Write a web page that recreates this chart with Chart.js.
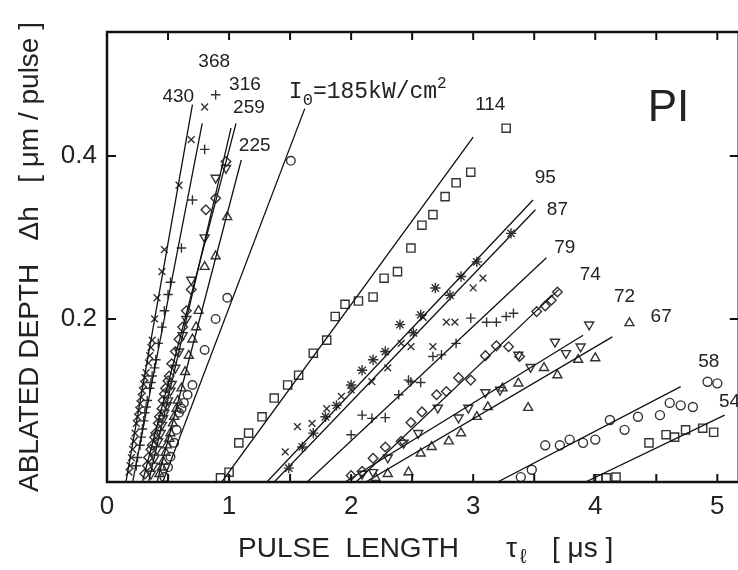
<!DOCTYPE html>
<html>
<head>
<meta charset="utf-8">
<script src="https://cdn.jsdelivr.net/npm/chart.js@4.4.1/dist/chart.umd.min.js"></script>
<style>
  html, body { margin: 0; padding: 0; background: #fff; overflow: hidden; }
  #wrap { width: 738px; height: 570px; overflow: hidden; }
</style>
</head>
<body>
<div id="wrap"><canvas id="chart" width="746" height="570"></canvas></div>
<script>
// laser intensity I0 [kW/cm2] of each series
const intensities = ["430", "368", "316", "259", "225", "185", "114", "95", "87", "79", "74", "72", "67", "58", "54"];

// measured points [pulse length (us), ablated depth (um/pulse)]
const pts430 = [[0.18,0.012],[0.19,0.02],[0.20,0.03],[0.21,0.04],[0.22,0.05],[0.23,0.06],[0.24,0.072],[0.25,0.08],[0.26,0.088],[0.27,0.096],[0.28,0.104],[0.29,0.112],[0.30,0.12],[0.31,0.128],[0.32,0.134],[0.34,0.146],[0.35,0.155],[0.36,0.165],[0.37,0.174],[0.39,0.20],[0.41,0.226],[0.45,0.258],[0.47,0.285],[0.59,0.364],[0.69,0.42],[0.80,0.46]];
const pts368 = [[0.24,0.02],[0.25,0.03],[0.27,0.045],[0.28,0.055],[0.29,0.065],[0.30,0.075],[0.31,0.085],[0.32,0.092],[0.33,0.10],[0.35,0.115],[0.36,0.122],[0.37,0.13],[0.39,0.14],[0.40,0.15],[0.42,0.17],[0.45,0.19],[0.47,0.21],[0.50,0.23],[0.52,0.245],[0.61,0.287],[0.70,0.346],[0.80,0.408],[0.89,0.475]];
const pts316 = [[0.31,0.01],[0.33,0.02],[0.34,0.03],[0.36,0.04],[0.37,0.045],[0.39,0.055],[0.40,0.06],[0.42,0.072],[0.43,0.08],[0.45,0.09],[0.46,0.10],[0.47,0.108],[0.48,0.115],[0.50,0.124],[0.51,0.13],[0.53,0.145],[0.56,0.16],[0.59,0.175],[0.62,0.19],[0.65,0.21],[0.69,0.236],[0.81,0.334],[0.89,0.348],[0.975,0.393]];
const pts259 = [[0.36,0.01],[0.38,0.02],[0.39,0.03],[0.41,0.04],[0.42,0.05],[0.44,0.06],[0.45,0.07],[0.46,0.078],[0.47,0.085],[0.49,0.094],[0.50,0.10],[0.52,0.112],[0.53,0.12],[0.56,0.14],[0.59,0.16],[0.62,0.18],[0.65,0.20],[0.69,0.248],[0.80,0.30],[0.89,0.373],[0.975,0.385]];
const pts225 = [[0.43,0.01],[0.45,0.018],[0.46,0.025],[0.48,0.036],[0.49,0.045],[0.51,0.053],[0.52,0.06],[0.54,0.072],[0.55,0.08],[0.57,0.09],[0.58,0.10],[0.61,0.115],[0.64,0.135],[0.67,0.155],[0.70,0.175],[0.73,0.19],[0.75,0.21],[0.80,0.264],[0.89,0.277],[0.985,0.325]];
const pts185 = [[0.47,0.006],[0.50,0.018],[0.52,0.031],[0.55,0.048],[0.57,0.064],[0.59,0.085],[0.61,0.09],[0.63,0.097],[0.66,0.107],[0.70,0.119],[0.80,0.162],[0.89,0.20],[0.985,0.226],[1.506,0.394]];
const pts114 = [[0.93,0.005],[1.00,0.012],[1.08,0.048],[1.16,0.06],[1.27,0.08],[1.37,0.103],[1.48,0.119],[1.57,0.131],[1.69,0.158],[1.80,0.174],[1.87,0.203],[1.95,0.218],[2.06,0.222],[2.18,0.227],[2.27,0.25],[2.38,0.258],[2.49,0.287],[2.58,0.315],[2.67,0.328],[2.77,0.35],[2.86,0.367],[2.98,0.38],[3.27,0.434]];
const pts95 = [[1.49,0.017],[1.60,0.043],[1.69,0.06],[1.79,0.08],[1.88,0.094],[2.00,0.119],[2.09,0.137],[2.18,0.15],[2.28,0.16],[2.40,0.193],[2.51,0.183],[2.57,0.205],[2.69,0.238],[2.81,0.229],[2.90,0.252],[3.03,0.27],[3.31,0.305]];
const pts87 = [[1.46,0.037],[1.56,0.068],[1.68,0.072],[1.80,0.09],[1.92,0.105],[2.00,0.113],[2.17,0.123],[2.30,0.14],[2.41,0.17],[2.49,0.166],[2.59,0.202],[2.67,0.166],[2.78,0.196],[2.85,0.196],[3.00,0.238],[3.08,0.25]];
const pts79 = [[2.00,0.058],[2.09,0.082],[2.17,0.078],[2.28,0.079],[2.39,0.107],[2.47,0.125],[2.49,0.123],[2.57,0.122],[2.67,0.154],[2.74,0.156],[2.86,0.17],[2.98,0.201],[3.11,0.196],[3.19,0.196],[3.27,0.203],[3.33,0.207]];
const pts74 = [[2.00,0.008],[2.09,0.013],[2.18,0.029],[2.28,0.043],[2.41,0.05],[2.49,0.073],[2.58,0.086],[2.70,0.107],[2.78,0.111],[2.88,0.128],[2.98,0.125],[3.10,0.155],[3.19,0.167],[3.29,0.166],[3.38,0.154],[3.52,0.209],[3.59,0.216],[3.64,0.223],[3.69,0.233]];
const pts72 = [[2.09,0.01],[2.18,0.012],[2.30,0.03],[2.43,0.048],[2.55,0.06],[2.71,0.091],[2.88,0.079],[2.96,0.091],[3.10,0.11],[3.22,0.113],[3.37,0.156],[3.47,0.141],[3.67,0.172],[3.76,0.158],[3.88,0.166],[3.95,0.193]];
const pts67 = [[2.20,0.005],[2.30,0.01],[2.47,0.012],[2.57,0.035],[2.66,0.043],[2.80,0.05],[2.90,0.06],[3.03,0.08],[3.12,0.092],[3.24,0.115],[3.37,0.121],[3.45,0.091],[3.58,0.14],[3.69,0.131],[3.86,0.15],[4.00,0.152],[4.28,0.195]];
const pts58 = [[3.39,0.006],[3.48,0.015],[3.59,0.045],[3.71,0.045],[3.79,0.052],[3.90,0.048],[4.00,0.052],[4.12,0.076],[4.24,0.064],[4.35,0.08],[4.53,0.082],[4.61,0.097],[4.70,0.094],[4.80,0.092],[4.92,0.123],[5.00,0.121]];
const pts54 = [[4.02,0.004],[4.09,0.005],[4.17,0.006],[4.44,0.048],[4.58,0.058],[4.65,0.055],[4.74,0.064],[4.88,0.066],[4.97,0.061]];

const seriesPoints = [pts430, pts368, pts316, pts259, pts225, pts185, pts114, pts95, pts87, pts79, pts74, pts72, pts67, pts58, pts54];

// straight fits: from the threshold on the x axis up to an end point
const fitStartX = [0.155, 0.21, 0.29, 0.34, 0.41, 0.457, 0.94, 1.31, 1.37, 1.64, 2.04, 1.95, 2.12, 3.2, 3.92];
const fitEndX = [0.70, 0.78, 1.057, 1.016, 1.10, 1.62, 3.0, 3.49, 3.51, 3.60, 3.70, 3.90, 4.14, 4.70, 5.06];
const fitEndY = [0.463, 0.44, 0.44, 0.434, 0.395, 0.458, 0.423, 0.346, 0.334, 0.275, 0.236, 0.18, 0.178, 0.117, 0.082];

// where each intensity label sits (data coords, text centre)
const labelX = [0.584, 0.878, 1.13, 1.163, 1.21, 1.49, 3.14, 3.59, 3.69, 3.75, 3.96, 4.24, 4.54, 4.93, 5.10];
const labelY = [0.472, 0.515, 0.487, 0.459, 0.413, 0.478, 0.463, 0.373, 0.334, 0.287, 0.254, 0.227, 0.203, 0.147, 0.098];

const markerStyle = ["crossRot", "cross", "rectRot", "triangle", "triangle", "circle", "rect", "star", "crossRot", "cross", "rectRot", "triangle", "triangle", "circle", "rect"];
const markerRotation = [0, 0, 0, 180, 0, 0, 0, 0, 0, 0, 0, 180, 0, 0, 0];
const markerRadius = [4.8, 4.8, 4.8, 5.2, 5.2, 4.3, 5.8, 5.2, 4.8, 4.8, 4.8, 5.2, 5.2, 4.5, 5.8];

const sansFont = '"Liberation Sans", Arial, sans-serif';
const ink = "#222";

const datasets = [];
intensities.forEach((name, i) => {
  datasets.push({
    label: name + " fit",
    type: "line",
    data: [{ x: fitStartX[i], y: 0 }, { x: fitEndX[i], y: fitEndY[i] }],
    borderColor: "#111",
    borderWidth: 1.3,
    pointRadius: 0,
    showLine: true,
    fill: false
  });
  datasets.push({
    label: name,
    type: "scatter",
    data: seriesPoints[i].map(p => ({ x: p[0], y: p[1] })),
    pointStyle: markerStyle[i],
    rotation: markerRotation[i],
    pointRadius: markerRadius[i],
    borderColor: "#333",
    backgroundColor: "rgba(0,0,0,0)",
    borderWidth: 1.4
  });
});

const frame = {
  id: "frame",
  afterDatasetsDraw(chart) {
    const { ctx, chartArea: a, scales } = chart;
    const x = scales.x, y = scales.y;
    ctx.save();
    ctx.strokeStyle = "#111";
    ctx.lineWidth = 2.5;
    ctx.strokeRect(a.left, a.top, a.right - a.left, a.bottom - a.top);

    // inward tick marks on all four sides
    ctx.lineWidth = 2;
    ctx.beginPath();
    for (let k = 1; k * 0.5 < x.max; k++) {
      const px = x.getPixelForValue(k * 0.5);
      ctx.moveTo(px, a.bottom); ctx.lineTo(px, a.bottom - 8);
      ctx.moveTo(px, a.top); ctx.lineTo(px, a.top + 8);
    }
    [0.2, 0.4].forEach(v => {
      const py = y.getPixelForValue(v);
      ctx.moveTo(a.left, py); ctx.lineTo(a.left + 9, py);
      ctx.moveTo(a.right, py); ctx.lineTo(a.right - 9, py);
    });
    ctx.stroke();

    // intensity labels
    ctx.fillStyle = ink;
    ctx.textBaseline = "middle";
    intensities.forEach((name, i) => {
      const px = x.getPixelForValue(labelX[i]);
      const py = y.getPixelForValue(labelY[i]);
      if (name === "185") {
        const mono = '"Liberation Mono", "DejaVu Sans Mono", monospace';
        ctx.textAlign = "left";
        ctx.textBaseline = "alphabetic";
        let cx = px;
        const base = py + 6;
        ctx.font = "23px " + mono;
        ctx.fillText("I", cx, base); cx += ctx.measureText("I").width;
        ctx.font = "17px " + mono;
        ctx.fillText("0", cx, base + 7); cx += ctx.measureText("0").width;
        ctx.font = "23px " + mono;
        ctx.fillText("=185kW/cm", cx, base); cx += ctx.measureText("=185kW/cm").width;
        ctx.font = "16px " + mono;
        ctx.fillText("2", cx, base - 10);
        ctx.textBaseline = "middle";
      } else {
        ctx.textAlign = "center";
        ctx.font = "19px " + sansFont;
        ctx.fillText(name, px, py);
      }
    });

    // material tag
    ctx.textAlign = "center";
    ctx.font = "44px " + sansFont;
    ctx.fillText("PI", x.getPixelForValue(4.6), y.getPixelForValue(0.458));

    // x axis title with subscripted l
    ctx.textAlign = "left";
    ctx.textBaseline = "alphabetic";
    const tb = 557;
    ctx.font = "28px " + sansFont;
    ctx.fillText("PULSE  LENGTH", 238, tb);
    ctx.fillText("\u03c4", 506, tb);
    ctx.font = "20px " + sansFont;
    ctx.fillText("\u2113", 520, tb + 6);
    ctx.font = "28px " + sansFont;
    ctx.fillText("[ \u03bcs ]", 552, tb);
    ctx.restore();
  }
};

new Chart(document.getElementById("chart"), {
  type: "scatter",
  data: { datasets },
  options: {
    responsive: false,
    animation: false,
    devicePixelRatio: 1,
    layout: { padding: { top: 32, right: 1, left: 0, bottom: 0 } },
    plugins: { legend: { display: false }, tooltip: { enabled: false } },
    scales: {
      x: {
        type: "linear",
        min: 0,
        max: 5.176,
        afterFit: scale => { scale.height = 88; scale.paddingRight = 0; scale.paddingLeft = 0; },
        grid: { display: false, drawTicks: false },
        border: { display: false },
        ticks: {
          stepSize: 1,
          includeBounds: false,
          padding: 9,
          color: ink,
          font: { family: sansFont, size: 26 },
          callback: v => (Math.abs(v - Math.round(v)) < 1e-6 ? String(Math.round(v)) : "")
        }
      },
      y: {
        type: "linear",
        min: 0,
        max: 0.552,
        afterFit: scale => { scale.width = 107; },
        grid: { display: false, drawTicks: false },
        border: { display: false },
        ticks: {
          stepSize: 0.2,
          includeBounds: false,
          padding: 10,
          color: ink,
          font: { family: sansFont, size: 26 },
          callback: v => (Math.abs(v - 0.2) < 1e-6 || Math.abs(v - 0.4) < 1e-6 ? v.toFixed(1) : "")
        },
        title: {
          display: true,
          text: "ABLATED DEPTH   \u0394h   [ \u03bcm / pulse ]",
          color: ink,
          font: { family: sansFont, size: 28 },
          padding: { top: 13, bottom: 0 }
        }
      }
    }
  },
  plugins: [frame]
});
</script>
</body>
</html>
